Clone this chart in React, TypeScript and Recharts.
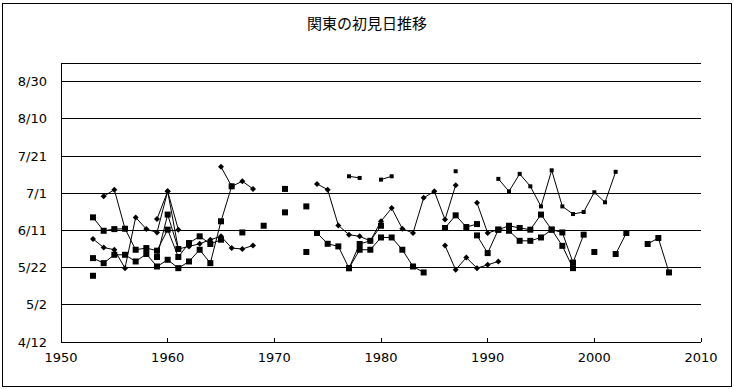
import React from 'react';
import { LineChart, Line, XAxis, YAxis, CartesianGrid } from 'recharts';

// years 1953..2007, values = days after 4/12
const years = Array.from({ length: 55 }, (_, i) => 1953 + i);

const xTicks = [1950, 1960, 1970, 1980, 1990, 2000, 2010];
const yTicks = [0, 20, 40, 60, 80, 100, 120, 140];
const yTickLabels = ['4/12', '5/2', '5/22', '6/11', '7/1', '7/21', '8/10', '8/30'];

const sqA = [
  45.1, 42.4, 46.9, 46.9, 43.3, 47.3, 40.6,
  44.2, 39.7, 43.3, 49.6, 42.4, 64.9, 83.7, null, null, null,
  null, 69.7, null, null, 58.6, 52.8, 51.4, 39.7, 49.6, 49.6,
  56.2, 56.2, 49.6, 40.6, 37.4, null, 61.3, 68.1, 61.8, 63.4,
  null, 60.4, 59.8, 54.4, 54.4, 56.2, 60.4, 51.7, 39.7, null,
  48.4, null, 47.3, 58.6, null, 52.7, 55.9, 37.4,
];

const sqB = [
  67.0, 59.8, 60.7, 60.9, 49.6, 50.5, 49.1,
  60.4, 45.7, 53.2, 56.8, 52.7, 55.0, null, 58.9, null, 62.5,
  null, null, null, 48.4, null, null, null, 39.7, 52.7, 54.4,
  62.5, null, null, null, null, null, null, null, null, 57.3,
  47.8, 60.4, 62.5, 61.3, 60.4, 68.5, 60.4, 58.9, 42.7, 57.7,
  null, null, null, null, null, null, null, null,
];

const sqC = [
  35.6, null, null, null, null, null, 45.7,
  68.5, 50.0, null, null, null, null, null, null, null, null,
  null, 82.3, null, 72.9, null, null, null, null, null, null,
  null, null, null, null, null, null, null, null, null, null,
  null, null, null, null, null, null, null, null, null, null,
  null, null, null, null, null, null, null, null,
];

const dA = [
  null, 78.3, 81.9, 60.9, null, null, 66.1,
  81.0, 60.4, null, null, null, 94.2, 83.7, 86.4, 82.3, null,
  null, null, null, null, 85.0, 81.9, 62.7, 57.7, 56.8, 54.4,
  64.9, 72.0, 60.9, 58.6, 77.5, 81.0, 65.8, 84.3, null, 74.8,
  58.6, 60.4, null, null, null, null, null, null, null, null,
  null, null, null, null, null, null, null, null,
];

const dB = [
  55.4, 50.8, 49.6, 39.7, 67.0, 60.7, 58.9,
  81.0, 50.0, 51.4, 52.8, 55.0, 56.8, 50.5, 50.0, 51.9, null,
  null, null, null, null, null, null, null, null, null, null,
  null, null, null, null, null, null, 51.9, 38.8, 45.4, 39.7,
  41.5, 43.3, null, null, null, null, null, null, null, null,
  null, null, null, null, null, null, null, null,
];

const dC = [
  null, null, null, null, null, null, null,
  null, null, null, null, null, null, null, null, null, null,
  null, null, null, null, null, null, null, 89.1, 88.2, null,
  87.3, 89.1, null, null, null, null, null, 91.8, null, null,
  null, 87.7, 81.0, 90.4, 83.7, 72.9, 92.3, 72.9, 68.8, 69.9,
  80.5, 75.1, 91.5, null, null, null, null, null,
];

const data = years.map((year, i) => ({
  year,
  sqA: sqA[i],
  sqB: sqB[i],
  sqC: sqC[i],
  dA: dA[i],
  dB: dB[i],
  dC: dC[i],
}));

const okPoint = (p: any) =>
  p.cx != null && p.cy != null && Number.isFinite(p.cy) && p.value != null;

const squareDot = (size: number) => (p: any) => {
  if (!okPoint(p)) return <g key={p.index} />;
  return (
    <rect key={p.index} x={p.cx - size / 2} y={p.cy - size / 2} width={size} height={size} fill="#000" />
  );
};

const diamondDot = (r: number) => (p: any) => {
  if (!okPoint(p)) return <g key={p.index} />;
  const { cx, cy } = p;
  return (
    <polygon
      key={p.index}
      points={`${cx},${cy - r} ${cx + r},${cy} ${cx},${cy + r} ${cx - r},${cy}`}
      fill="#000"
    />
  );
};

const series = [
  { key: 'sqA', dot: squareDot(6) },
  { key: 'sqB', dot: squareDot(6) },
  { key: 'sqC', dot: squareDot(6) },
  { key: 'dA', dot: diamondDot(3) },
  { key: 'dB', dot: diamondDot(3) },
  { key: 'dC', dot: squareDot(4) },
];

const tickFont = { fill: '#000', fontSize: 13, fontFamily: '"DejaVu Sans", sans-serif' };

export default function App() {
  return (
    <div style={{ position: 'absolute', left: 0, top: 0, width: 734, height: 389, background: '#fff' }}>
      <div
        style={{
          position: 'absolute',
          left: 2,
          top: 3,
          width: 728,
          height: 382,
          border: '1px solid #000',
        }}
      />
      <div
        style={{
          position: 'absolute',
          left: 0,
          top: 12,
          width: 734,
          textAlign: 'center',
          fontSize: 15,
          fontFamily: '"Noto Sans CJK JP", sans-serif',
          color: '#000',
        }}
      >
        関東の初見日推移
      </div>
      <div style={{ position: 'absolute', left: 0, top: 0 }}>
        <LineChart width={734} height={389} data={data} margin={{ top: 63, right: 33, bottom: 0, left: 0 }}>
          <CartesianGrid vertical={false} stroke="#000" strokeWidth={1} shapeRendering="crispEdges" />
          <XAxis
            dataKey="year"
            type="number"
            domain={[1950, 2010]}
            ticks={xTicks}
            height={47}
            axisLine={{ stroke: '#000', shapeRendering: 'crispEdges' }}
            tickLine={{ stroke: '#000', shapeRendering: 'crispEdges' }}
            tickSize={-4}
            tickMargin={15}
            tick={tickFont}
            interval={0}
          />
          <YAxis
            type="number"
            domain={[0, 150]}
            ticks={yTicks}
            width={61}
            axisLine={{ stroke: '#000', shapeRendering: 'crispEdges' }}
            tickLine={false}
            tickSize={12}
            tickMargin={2}
            tick={tickFont}
            tickFormatter={(v: number) => yTickLabels[yTicks.indexOf(v)] ?? ''}
            interval={0}
            allowDataOverflow
          />
          {series.map((s) => (
            <Line
              key={s.key}
              dataKey={s.key}
              type="linear"
              stroke="#000"
              strokeWidth={1}
              dot={s.dot}
              activeDot={false}
              connectNulls={false}
              isAnimationActive={false}
            />
          ))}
        </LineChart>
      </div>
    </div>
  );
}
